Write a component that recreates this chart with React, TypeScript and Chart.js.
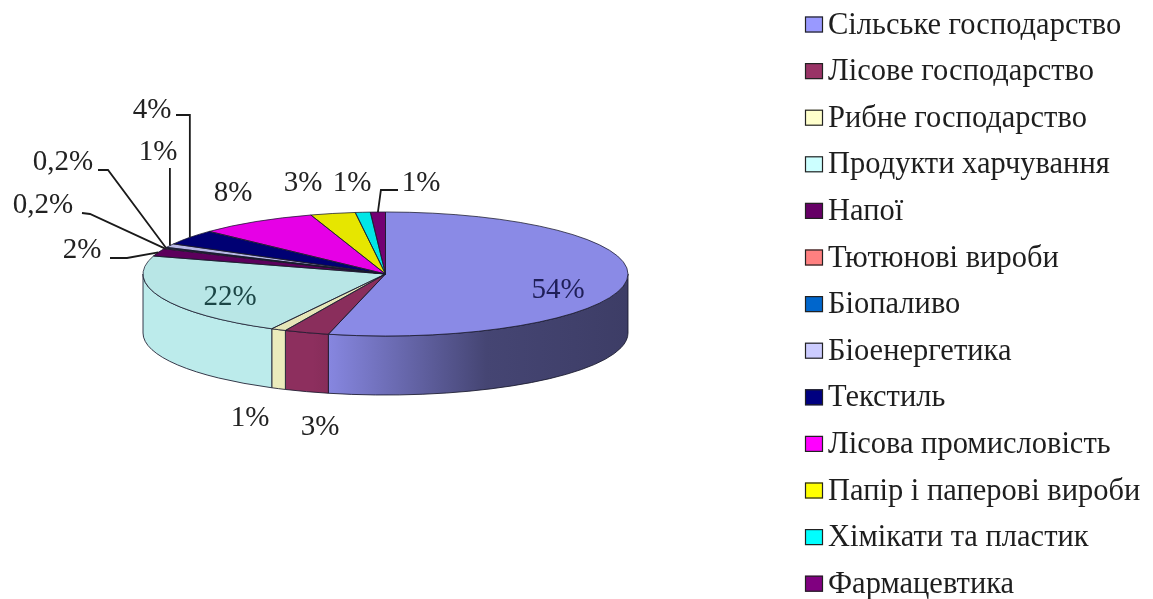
import { useEffect, useRef } from 'react';
import { Chart, registerables } from 'chart.js';

Chart.register(...registerables);

// Sector names, shares (%) and their colours
const sectors = [
  'Сільське господарство',
  'Лісове господарство',
  'Рибне господарство',
  'Продукти харчування',
  'Напої',
  'Тютюнові вироби',
  'Біопаливо',
  'Біоенергетика',
  'Текстиль',
  'Лісова промисловість',
  'Папір і паперові вироби',
  'Хімікати та пластик',
  'Фармацевтика',
];
const shares = [54, 3, 1, 22, 2, 0.2, 0.2, 1, 4, 8, 3, 1, 1];
const palette = [
  '#9999FF', '#993366', '#FFFFCC', '#CCFFFF', '#660066', '#FF8080', '#0066CC',
  '#CCCCFF', '#000080', '#FF00FF', '#FFFF00', '#00FFFF', '#800080',
];

// Pie look: vertical squash of the top face and the thickness of the disc
const TILT = 0.2557;
const DEPTH = 59;
const LABEL_FONT = '29px "Liberation Serif", "Times New Roman", serif';
const LEGEND_FONT = '30.5px "Liberation Serif", "Times New Roman", serif';
const EDGE = 'rgba(25,25,45,0.85)';

type Pt = [number, number];
type Anchor = { x: number; y: number };
type LabelPlace = {
  x: number;
  y: number;
  color?: string;
  leader?: (a: Anchor) => Pt[];
};

// Where each percentage label sits, with optional leader line to the slice edge
const labelPlaces: LabelPlace[] = [
  { x: 558, y: 290, color: '#1f1f58' },
  { x: 320, y: 427 },
  { x: 250, y: 418 },
  { x: 230, y: 297, color: '#1c4646' },
  { x: 82, y: 250, leader: () => [[110, 258], [127, 258]] },
  { x: 43, y: 205, leader: () => [[82, 213], [90, 214]] },
  { x: 63, y: 162, leader: () => [[98, 170], [108, 170]] },
  { x: 158, y: 152, leader: (a) => [[a.x, 168]] },
  { x: 152, y: 110, leader: (a) => [[176, 115], [a.x, 115]] },
  { x: 233, y: 193 },
  { x: 303, y: 183 },
  { x: 352, y: 183 },
  { x: 421, y: 183, leader: (a) => [[398, 190], [a.x + 3, 190]] },
];

function shade(hex: string, f: number): string {
  const n = parseInt(hex.slice(1), 16);
  const r = Math.round(((n >> 16) & 255) * f);
  const g = Math.round(((n >> 8) & 255) * f);
  const b = Math.round((n & 255) * f);
  return `rgb(${r},${g},${b})`;
}

function fmtShare(v: number): string {
  return String(v).replace('.', ',') + '%';
}

function geometry(chart: any) {
  const arcs = chart.getDatasetMeta(0).data as any[];
  if (!arcs.length) return null;
  const p = arcs[0].getProps(['x', 'y', 'outerRadius'], true);
  return { arcs, cx: p.x as number, cy: p.y as number, R: p.outerRadius as number, ry: p.outerRadius * TILT };
}

// Draws the disc's side walls, squashes the top face and adds outlines
const pie3d = {
  id: 'pie3d',
  beforeDatasetsDraw(chart: any) {
    const g = geometry(chart);
    const ctx = chart.ctx as CanvasRenderingContext2D;
    ctx.save();
    if (g) {
      const { arcs, cx, cy, R, ry } = g;
      arcs.forEach((arc, i) => {
        const { startAngle: a, endAngle: b } = arc.getProps(['startAngle', 'endAngle'], true);
        const s = Math.max(a, 0);
        const e = Math.min(b, Math.PI);
        if (e <= s) return;
        const grad = ctx.createLinearGradient(cx - 0.3 * R, 0, cx + R, 0);
        grad.addColorStop(0, shade(palette[i], 0.92));
        grad.addColorStop(0.55, shade(palette[i], 0.45));
        grad.addColorStop(1, shade(palette[i], 0.4));
        ctx.beginPath();
        ctx.ellipse(cx, cy, R, ry, 0, s, e);
        ctx.lineTo(cx + R * Math.cos(e), cy + ry * Math.sin(e) + DEPTH);
        ctx.ellipse(cx, cy + DEPTH, R, ry, 0, e, s, true);
        ctx.closePath();
        ctx.fillStyle = grad;
        ctx.fill();
        ctx.lineWidth = 1;
        ctx.strokeStyle = EDGE;
        ctx.stroke();
      });
      ctx.restore();
      ctx.save();
      ctx.translate(0, cy);
      ctx.scale(1, TILT);
      ctx.translate(0, -cy);
    }
  },
  afterDatasetsDraw(chart: any) {
    const ctx = chart.ctx as CanvasRenderingContext2D;
    ctx.restore();
    const g = geometry(chart);
    if (!g) return;
    const { arcs, cx, cy, R, ry } = g;
    ctx.save();
    ctx.lineWidth = 0.9;
    ctx.strokeStyle = EDGE;
    arcs.forEach((arc) => {
      const { startAngle: a, endAngle: b } = arc.getProps(['startAngle', 'endAngle'], true);
      ctx.beginPath();
      ctx.moveTo(cx, cy);
      ctx.ellipse(cx, cy, R, ry, 0, a, b);
      ctx.closePath();
      ctx.stroke();
    });
    ctx.restore();
  },
  afterDraw(chart: any) {
    const g = geometry(chart);
    const ctx = chart.ctx as CanvasRenderingContext2D;
    ctx.save();
    ctx.font = LABEL_FONT;
    ctx.textAlign = 'center';
    ctx.textBaseline = 'middle';
    if (g) {
      const { arcs, cx, cy, R, ry } = g;
      arcs.forEach((arc, i) => {
        const place = labelPlaces[i];
        if (!place) return;
        const { startAngle: a, endAngle: b } = arc.getProps(['startAngle', 'endAngle'], true);
        const mid = (a + b) / 2;
        const anchor = { x: cx + R * Math.cos(mid), y: cy + ry * Math.sin(mid) };
        if (place.leader) {
          const pts = place.leader(anchor);
          ctx.beginPath();
          ctx.moveTo(pts[0][0], pts[0][1]);
          for (let k = 1; k < pts.length; k++) ctx.lineTo(pts[k][0], pts[k][1]);
          ctx.lineTo(anchor.x, anchor.y);
          ctx.lineWidth = 1.8;
          ctx.strokeStyle = '#1a1a1a';
          ctx.stroke();
        }
        ctx.fillStyle = place.color || '#222222';
        ctx.fillText(fmtShare(shares[i]), place.x, place.y);
      });
    }

    // Legend column on the right
    ctx.font = LEGEND_FONT;
    ctx.textAlign = 'left';
    sectors.forEach((name, i) => {
      const yc = 24.5 + i * 46.6;
      ctx.fillStyle = palette[i];
      ctx.fillRect(805, yc - 8, 18, 16);
      ctx.lineWidth = 1.2;
      ctx.strokeStyle = '#222222';
      ctx.strokeRect(805.5, yc - 7.5, 17, 15);
      ctx.fillStyle = '#1e1e1e';
      ctx.fillText(name, 828, yc + 1);
    });
    ctx.restore();
  },
};

export default function App() {
  const canvasRef = useRef<HTMLCanvasElement | null>(null);

  useEffect(() => {
    const canvas = canvasRef.current;
    if (!canvas) return;
    const chart = new Chart(canvas, {
      type: 'pie',
      data: {
        labels: sectors,
        datasets: [
          {
            data: shares,
            backgroundColor: palette.map((c) => shade(c, 0.9)),
            borderWidth: 0,
            clip: false as any,
          },
        ],
      },
      options: {
        responsive: true,
        maintainAspectRatio: false,
        animation: false,
        events: [],
        layout: { padding: { left: 143, right: 525, top: 31.5, bottom: 82.5 } },
        plugins: {
          legend: { display: false },
          tooltip: { enabled: false },
        },
      },
      plugins: [pie3d],
    });
    return () => chart.destroy();
  }, []);

  return (
    <div style={{ position: 'fixed', left: 0, top: 0, width: 1153, height: 599, background: '#ffffff' }}>
      <canvas ref={canvasRef} />
    </div>
  );
}
